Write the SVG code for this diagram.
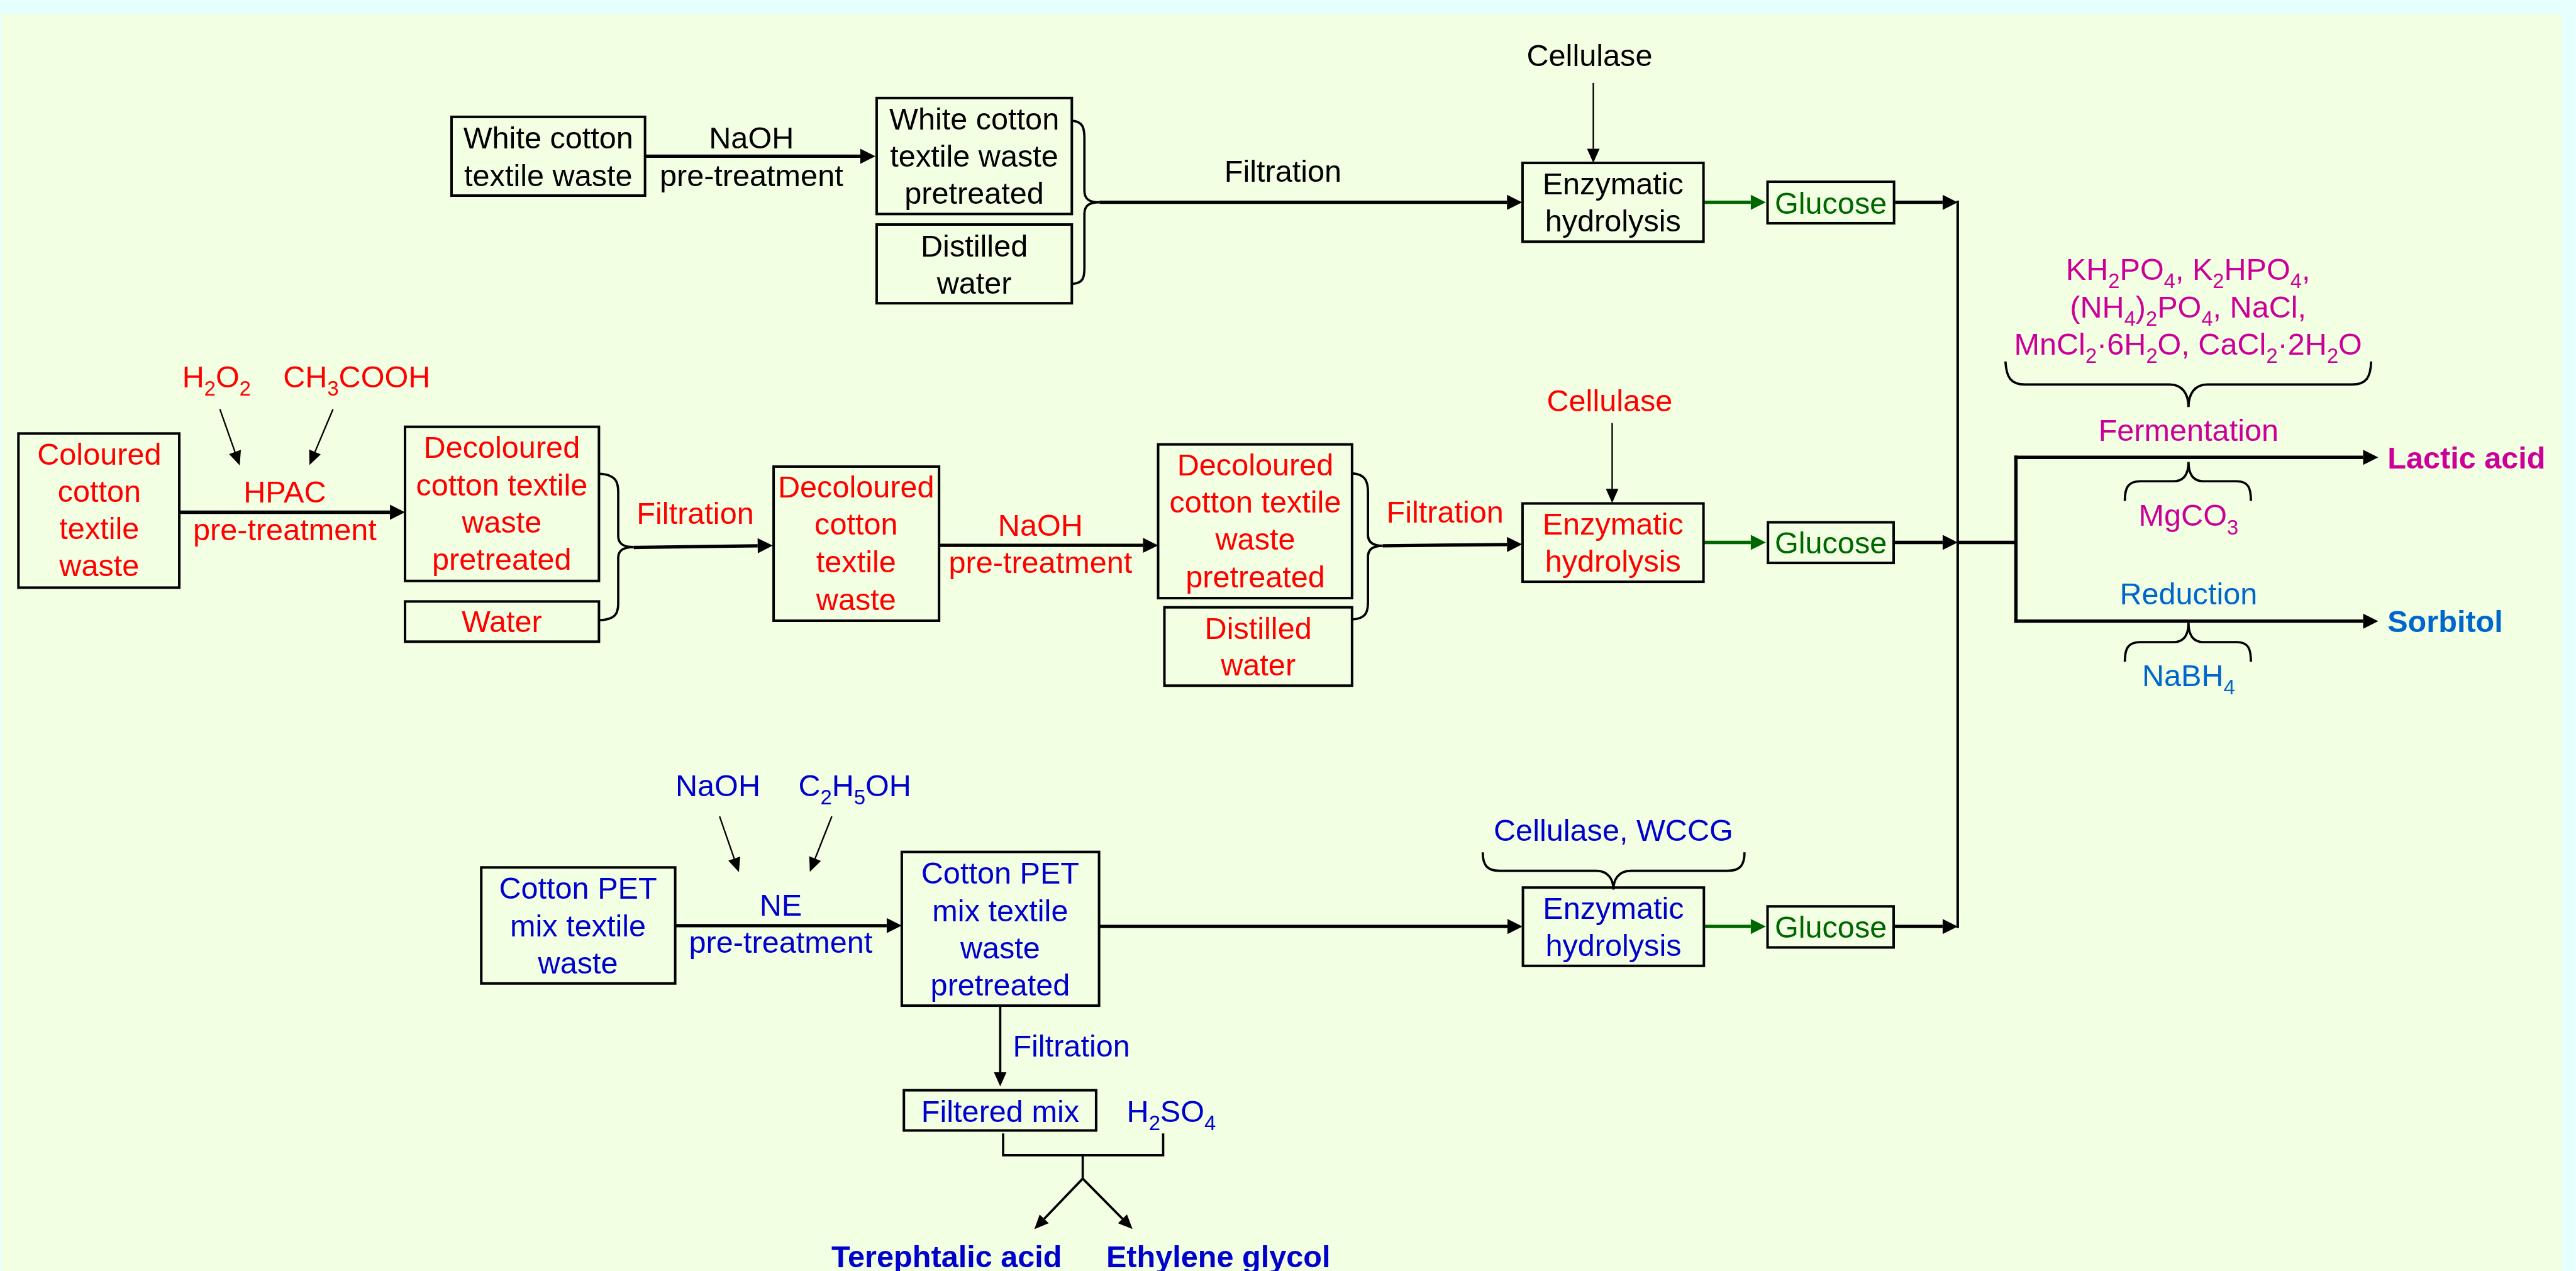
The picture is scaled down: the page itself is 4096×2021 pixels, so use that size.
<svg xmlns="http://www.w3.org/2000/svg" width="4096" height="2021" viewBox="0 0 4096 2021">
<defs>
<style>
text{font-family:"Liberation Sans",Arial,sans-serif;font-size:73px;text-anchor:middle}
.st{text-anchor:start}
.b{font-weight:bold}
.k{fill:#000}
.r{fill:#FF0000}
.g{fill:#006600}
.m{fill:#CC0099}
.lb{fill:#0066CC}
.db{fill:#0000CC}
.box{fill:none;stroke:#000;stroke-width:6}
.c{fill:none;stroke:#000;stroke-width:8}
.cg{fill:none;stroke:#006600;stroke-width:8}
.thin{fill:none;stroke:#000;stroke-width:3.5}
.med{fill:none;stroke:#000;stroke-width:5.5}
.br{fill:none;stroke:#000;stroke-width:5.5}
</style>
<marker id="ah" markerUnits="userSpaceOnUse" markerWidth="40" markerHeight="40" refX="0" refY="0" orient="auto" overflow="visible"><path d="M0,-18 L36,0 L0,18 z" fill="#000"/></marker>
<marker id="ahg" markerUnits="userSpaceOnUse" markerWidth="40" markerHeight="40" refX="0" refY="0" orient="auto" overflow="visible"><path d="M0,-18 L36,0 L0,18 z" fill="#006600"/></marker>
<marker id="ahs" markerUnits="userSpaceOnUse" markerWidth="40" markerHeight="40" refX="0" refY="0" orient="auto" overflow="visible"><path d="M0,-15 L34,0 L0,15 z" fill="#000"/></marker>
</defs>
<rect x="0" y="0" width="4096" height="2021" fill="#E6FFFF"/>
<g transform="scale(0.666)">
<rect x="4" y="33" width="6113" height="3010" fill="#F2FFE3"/>

<g id="connectors">
<line class="c" x1="1540" y1="373" x2="2054" y2="373" marker-end="url(#ah)"/>
<path class="br" d="M2559,288 C2585,290 2589,305 2589,330 L2589,455 C2589,475 2600,483 2625,483 C2600,483 2589,491 2589,511 L2589,640 C2589,665 2585,676 2559,678"/>
<line class="c" x1="2625" y1="483" x2="3598" y2="483" marker-end="url(#ah)"/>
<line class="thin" x1="3804" y1="198" x2="3804" y2="355" marker-end="url(#ahs)"/>
<line class="cg" x1="4067" y1="483" x2="4180" y2="483" marker-end="url(#ahg)"/>
<line class="c" x1="4522" y1="483" x2="4638" y2="483" marker-end="url(#ah)"/>

<line class="thin" x1="525" y1="977" x2="561" y2="1079" marker-end="url(#ahs)"/>
<line class="thin" x1="795" y1="977" x2="752" y2="1079" marker-end="url(#ahs)"/>
<line class="c" x1="428" y1="1223" x2="931" y2="1223" marker-end="url(#ah)"/>
<path class="br" d="M1430,1131 C1470,1133 1476,1150 1476,1175 L1476,1280 C1476,1298 1488,1306 1513,1306 C1488,1306 1476,1314 1476,1332 L1476,1440 C1476,1465 1470,1479 1430,1481"/>
<line class="c" x1="1513" y1="1307" x2="1809" y2="1303" marker-end="url(#ah)"/>
<line class="c" x1="2242" y1="1302" x2="2729" y2="1302" marker-end="url(#ah)"/>
<path class="br" d="M3228,1130 C3260,1132 3266,1150 3266,1175 L3266,1277 C3266,1295 3278,1303 3301,1303 C3278,1303 3266,1311 3266,1329 L3266,1438 C3266,1463 3260,1477 3228,1479"/>
<line class="c" x1="3301" y1="1303" x2="3598" y2="1300" marker-end="url(#ah)"/>
<line class="thin" x1="3849" y1="1010" x2="3849" y2="1167" marker-end="url(#ahs)"/>
<line class="cg" x1="4067" y1="1295" x2="4180" y2="1295" marker-end="url(#ahg)"/>
<line class="c" x1="4521" y1="1295" x2="4638" y2="1295" marker-end="url(#ah)"/>

<line class="c" x1="4674" y1="479" x2="4674" y2="2216" style="stroke-width:6"/>
<line class="c" x1="4674" y1="1295" x2="4813" y2="1295"/>
<line class="c" x1="4813" y1="1088" x2="4813" y2="1487"/>
<line class="c" x1="4809" y1="1092" x2="5642" y2="1092" marker-end="url(#ah)"/>
<line class="c" x1="4809" y1="1483" x2="5642" y2="1483" marker-end="url(#ah)"/>
<path class="br" d="M4788,863 C4790,900 4800,918 4835,918 L5180,918 C5210,918 5225,940 5225,972 C5225,940 5240,918 5270,918 L5615,918 C5650,918 5660,900 5661,863"/>
<path class="br" d="M5073,1196 C5073,1165 5080,1149 5110,1149 L5190,1149 C5215,1149 5225,1130 5225,1103 C5225,1130 5235,1149 5260,1149 L5340,1149 C5368,1149 5374,1165 5374,1196"/>
<path class="br" transform="translate(0,384)" d="M5073,1196 C5073,1165 5080,1149 5110,1149 L5190,1149 C5215,1149 5225,1130 5225,1103 C5225,1130 5235,1149 5260,1149 L5340,1149 C5368,1149 5374,1165 5374,1196"/>

<line class="thin" x1="1718" y1="1949" x2="1753" y2="2050" marker-end="url(#ahs)"/>
<line class="thin" x1="1986" y1="1949" x2="1946" y2="2050" marker-end="url(#ahs)"/>
<line class="c" x1="1612" y1="2210" x2="2117" y2="2210" marker-end="url(#ah)"/>
<line class="c" x1="2624" y1="2212" x2="3599" y2="2212" marker-end="url(#ah)"/>
<path class="br" d="M3540,2035 C3540,2065 3550,2079 3580,2079 L3810,2079 C3840,2079 3852,2100 3852,2124 C3852,2100 3864,2079 3894,2079 L4125,2079 C4155,2079 4165,2065 4165,2035"/>
<line class="cg" x1="4068" y1="2212" x2="4180" y2="2212" marker-end="url(#ahg)"/>
<line class="c" x1="4521" y1="2212" x2="4638" y2="2212" marker-end="url(#ah)"/>
<line class="med" x1="2388" y1="2401" x2="2388" y2="2560" marker-end="url(#ahs)"/>
<path class="med" d="M2395,2706 L2395,2758 L2777,2758 L2777,2706 M2585,2758 L2585,2814"/>
<line class="med" x1="2585" y1="2814" x2="2493" y2="2910" marker-end="url(#ahs)"/>
<line class="med" x1="2585" y1="2814" x2="2680" y2="2910" marker-end="url(#ahs)"/>
</g>

<g id="n-white-waste"><rect class="box" x="1078" y="279" width="462" height="188"/><text class="k" x="1309" y="354">White cotton</text><text class="k" x="1309" y="444">textile waste</text></g>
<g id="l-naoh1"><text class="k" x="1794" y="354">NaOH</text><text class="k" x="1794" y="444">pre-treatment</text></g>
<g id="n-white-pre"><rect class="box" x="2093" y="234" width="466" height="277"/><text class="k" x="2326" y="309">White cotton</text><text class="k" x="2326" y="398">textile waste</text><text class="k" x="2326" y="487">pretreated</text></g>
<g id="n-dw1"><rect class="box" x="2093" y="536" width="466" height="188"/><text class="k" x="2326" y="612">Distilled</text><text class="k" x="2326" y="701">water</text></g>
<g id="l-filt1"><text class="k" x="3063" y="434">Filtration</text></g>
<g id="l-cell1"><text class="k" x="3795" y="158">Cellulase</text></g>
<g id="n-enz1"><rect class="box" x="3635" y="389" width="432" height="188"/><text class="k" x="3851" y="464">Enzymatic</text><text class="k" x="3851" y="553">hydrolysis</text></g>
<g id="n-glu1"><rect class="box" x="4220" y="434" width="302" height="99"/><text class="g" x="4371" y="511">Glucose</text></g>

<g id="l-hpac"><text class="r st" x="435" y="925">H<tspan font-size="49" dy="20">2</tspan><tspan dy="-20">O</tspan><tspan font-size="49" dy="20">2</tspan></text><text class="r st" x="676" y="925">CH<tspan font-size="49" dy="20">3</tspan><tspan dy="-20">COOH</tspan></text><text class="r" x="680" y="1200">HPAC</text><text class="r" x="680" y="1290">pre-treatment</text></g>
<g id="n-coloured"><rect class="box" x="44" y="1035" width="384" height="368"/><text class="r" x="237" y="1109">Coloured</text><text class="r" x="237" y="1198">cotton</text><text class="r" x="237" y="1287">textile</text><text class="r" x="237" y="1376">waste</text></g>
<g id="n-dec1"><rect class="box" x="967" y="1019" width="463" height="368"/><text class="r" x="1198" y="1093">Decoloured</text><text class="r" x="1198" y="1183">cotton textile</text><text class="r" x="1198" y="1272">waste</text><text class="r" x="1198" y="1361">pretreated</text></g>
<g id="n-water"><rect class="box" x="967" y="1436" width="463" height="96"/><text class="r" x="1198" y="1509">Water</text></g>
<g id="l-filt2"><text class="r" x="1660" y="1251">Filtration</text></g>
<g id="n-dec2"><rect class="box" x="1847" y="1114" width="395" height="368"/><text class="r" x="2044" y="1188">Decoloured</text><text class="r" x="2044" y="1277">cotton</text><text class="r" x="2044" y="1367">textile</text><text class="r" x="2044" y="1456">waste</text></g>
<g id="l-naoh2"><text class="r" x="2484" y="1280">NaOH</text><text class="r" x="2484" y="1368">pre-treatment</text></g>
<g id="n-dec3"><rect class="box" x="2765" y="1061" width="463" height="367"/><text class="r" x="2997" y="1135">Decoloured</text><text class="r" x="2997" y="1224">cotton textile</text><text class="r" x="2997" y="1313">waste</text><text class="r" x="2997" y="1402">pretreated</text></g>
<g id="n-dw2"><rect class="box" x="2780" y="1450" width="448" height="187"/><text class="r" x="3004" y="1525">Distilled</text><text class="r" x="3004" y="1613">water</text></g>
<g id="l-filt3"><text class="r" x="3450" y="1248">Filtration</text></g>
<g id="l-cell2"><text class="r" x="3843" y="982">Cellulase</text></g>
<g id="n-enz2"><rect class="box" x="3635" y="1202" width="432" height="187"/><text class="r" x="3851" y="1276">Enzymatic</text><text class="r" x="3851" y="1365">hydrolysis</text></g>
<g id="n-glu2"><rect class="box" x="4221" y="1247" width="300" height="97"/><text class="g" x="4371" y="1322">Glucose</text></g>

<g id="l-salts"><text class="m" x="5224" y="668">KH<tspan font-size="49" dy="20">2</tspan><tspan dy="-20">PO</tspan><tspan font-size="49" dy="20">4</tspan><tspan dy="-20">, K</tspan><tspan font-size="49" dy="20">2</tspan><tspan dy="-20">HPO</tspan><tspan font-size="49" dy="20">4</tspan><tspan dy="-20">,</tspan></text><text class="m" x="5224" y="758">(NH<tspan font-size="49" dy="20">4</tspan><tspan dy="-20">)</tspan><tspan font-size="49" dy="20">2</tspan><tspan dy="-20">PO</tspan><tspan font-size="49" dy="20">4</tspan><tspan dy="-20">, NaCl,</tspan></text><text class="m" x="5224" y="847">MnCl<tspan font-size="49" dy="20">2</tspan><tspan dy="-20">·6H</tspan><tspan font-size="49" dy="20">2</tspan><tspan dy="-20">O, CaCl</tspan><tspan font-size="49" dy="20">2</tspan><tspan dy="-20">·2H</tspan><tspan font-size="49" dy="20">2</tspan><tspan dy="-20">O</tspan></text></g>
<g id="l-ferm"><text class="m" x="5225" y="1053">Fermentation</text><text class="m" x="5225" y="1256">MgCO<tspan font-size="49" dy="20">3</tspan></text></g>
<g id="n-lactic"><text class="m b st" x="5700" y="1119">Lactic acid</text></g>
<g id="l-red"><text class="lb" x="5225" y="1443">Reduction</text><text class="lb" x="5225" y="1638">NaBH<tspan font-size="49" dy="20">4</tspan></text></g>
<g id="n-sorbitol"><text class="lb b st" x="5700" y="1509">Sorbitol</text></g>

<g id="l-ne"><text class="db" x="1714" y="1901">NaOH</text><text class="db st" x="1906" y="1901">C<tspan font-size="49" dy="20">2</tspan><tspan dy="-20">H</tspan><tspan font-size="49" dy="20">5</tspan><tspan dy="-20">OH</tspan></text><text class="db" x="1864" y="2186">NE</text><text class="db" x="1864" y="2275">pre-treatment</text></g>
<g id="n-pet1"><rect class="box" x="1149" y="2071" width="463" height="277"/><text class="db" x="1380" y="2146">Cotton PET</text><text class="db" x="1380" y="2236">mix textile</text><text class="db" x="1380" y="2325">waste</text></g>
<g id="n-pet2"><rect class="box" x="2153" y="2034" width="471" height="367"/><text class="db" x="2388" y="2110">Cotton PET</text><text class="db" x="2388" y="2199">mix textile</text><text class="db" x="2388" y="2288">waste</text><text class="db" x="2388" y="2377">pretreated</text></g>
<g id="l-filt4"><text class="db st" x="2418" y="2522">Filtration</text></g>
<g id="n-filtered"><rect class="box" x="2158" y="2603" width="459" height="96"/><text class="db" x="2388" y="2678">Filtered mix</text></g>
<g id="l-h2so4"><text class="db st" x="2690" y="2678">H<tspan font-size="49" dy="20">2</tspan><tspan dy="-20">SO</tspan><tspan font-size="49" dy="20">4</tspan></text></g>
<g id="l-cell3"><text class="db" x="3852" y="2007">Cellulase, WCCG</text></g>
<g id="n-enz3"><rect class="box" x="3636" y="2119" width="432" height="187"/><text class="db" x="3852" y="2193">Enzymatic</text><text class="db" x="3852" y="2283">hydrolysis</text></g>
<g id="n-glu3"><rect class="box" x="4220" y="2164" width="301" height="98"/><text class="g" x="4371" y="2238">Glucose</text></g>
<g id="n-tpa"><text class="db b st" x="1985" y="3025">Terephtalic acid</text></g>
<g id="n-eg"><text class="db b st" x="2641" y="3025">Ethylene glycol</text></g>
</g>
</svg>
